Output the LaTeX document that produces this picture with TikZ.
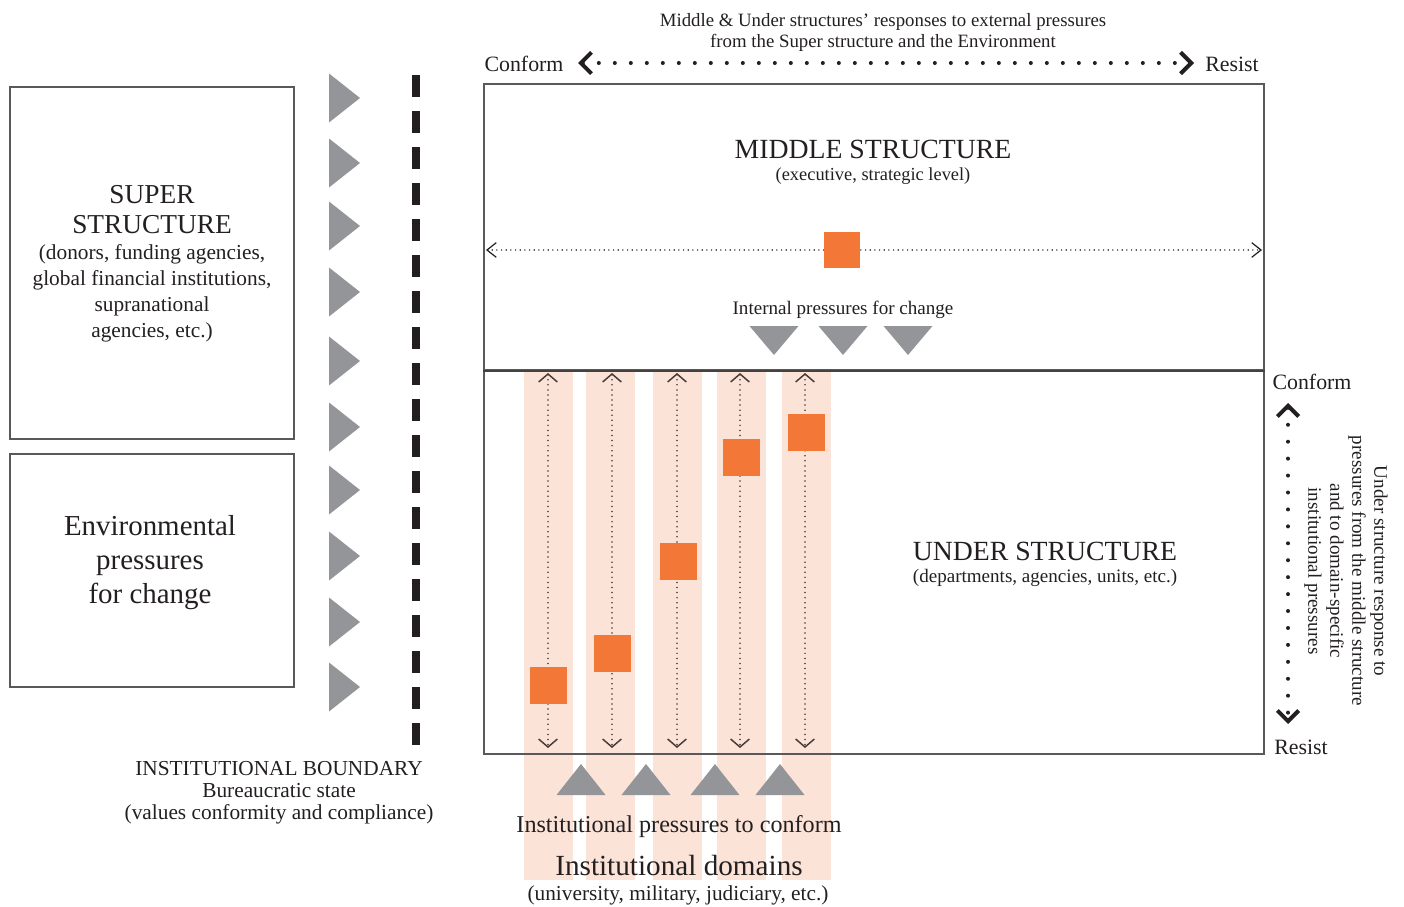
\documentclass[tikz,border=0pt]{standalone}
\usepackage{fontspec}
\setmainfont{Liberation Serif}
\usetikzlibrary{arrows.meta}
\definecolor{txt}{HTML}{231F20}
\definecolor{tri}{HTML}{939598}
\definecolor{pinkc}{HTML}{FCE3D8}
\definecolor{orng}{HTML}{F37838}
\definecolor{brn}{HTML}{4A3A35}
\definecolor{boxc}{HTML}{58595B}
\begin{document}
\begin{tikzpicture}[x=0.75pt,y=-0.75pt,
  every node/.style={text=txt, inner sep=0pt},
  fs/.style 2 args={font=\fontsize{#1}{#2}\selectfont},
  box/.style={draw=boxc, line width=1pt},
  sq/.style={fill=orng, minimum size=27.75pt},
  bigdots/.style={line width=3pt, dash pattern=on 0pt off 12pt, line cap=round, draw=txt,
     {Straight Barb[length=8pt,width=16pt,line width=3pt]}-{Straight Barb[length=8pt,width=16pt,line width=3pt]}},
  thindots/.style={line width=1.15pt, dash pattern=on 0pt off 3.5pt, line cap=round, draw=txt,
     {Straight Barb[length=7pt,width=11pt,line width=0.9pt]}-{Straight Barb[length=7pt,width=11pt,line width=0.9pt]}},
  coldots/.style={line width=1.3pt, dash pattern=on 0pt off 3.8pt, line cap=round, draw=brn,
     {Straight Barb[length=6pt,width=14pt,line width=1.1pt]}-{Straight Barb[length=6pt,width=14pt,line width=1.1pt]}},
  boundary/.style={line width=5.5pt, dash pattern=on 16.5pt off 10.5pt, draw=txt},
  col/.style={fill=pinkc}
]
\useasboundingbox (0,0) rectangle (1404,907);

% pink institutional domain columns
\foreach \a/\b in {524/573, 586/635, 653/702, 717/766, 782/831}
  \fill[col] (\a,371) rectangle (\b,880);

% left boxes
\node[box, minimum width=213pt, minimum height=264pt] (super) at (152,263) {};
\node[box, minimum width=213pt, minimum height=174.75pt] (env) at (152,570.5) {};
\node[fs={20.5}{22}, align=center] (supert) at (152,209.5) {SUPER\\STRUCTURE};
\node[fs={16}{19.5}, align=center] (superd) at (152,293.5) {(donors, funding agencies,\\global financial institutions,\\supranational\\agencies, etc.)};
\node[fs={21.7}{25.5}, align=center] (envt) at (150,562.5) {Environmental\\pressures\\for change};

% right-pointing grey triangles
\foreach \y in {98,163,226,292,361,427,490,556,622,687}
  \fill[tri] (329,\y-24.5) -- (360,\y) -- (329,\y+24.5) -- cycle;

% institutional boundary
\coordinate (bt) at (416,75);
\coordinate (bb) at (416,745);
\draw[boundary] (bt) -- (bb);
\node[fs={16}{16.5}, align=center] (ib) at (279,793) {INSTITUTIONAL BOUNDARY\\Bureaucratic state\\(values conformity and compliance)};

% middle and under structure boxes
\node[box, minimum width=585pt, minimum height=214.5pt] (mid) at (874,227) {};
\node[box, minimum width=585pt, minimum height=288pt] (under) at (874,562) {};
\draw[draw=txt!85, line width=1.4pt] (mid.south west) -- (mid.south east);

% top response arrow
\node[fs={14.1}{15.75}, align=center] (toptxt) at (883,32) {Middle \& Under structures’ responses to external pressures\\from the Super structure and the Environment};
\node[fs={16.4}{18}] (conf1) at (524,64) {Conform};
\node[fs={16.4}{18}] (res1) at (1232,64) {Resist};
\coordinate (tl) at (578,63);
\coordinate (tr) at (1194,63);
\draw[bigdots] (tl) -- (tr);

% middle structure
\node[fs={20.8}{22}] (midt) at (873,149) {MIDDLE STRUCTURE};
\node[fs={13.8}{16}] (midd) at (873,176) {(executive, strategic level)};
\coordinate (ml) at (486,250);
\coordinate (mr) at (1262,250);
\draw[thindots] (ml) -- (mr);
\node[sq, minimum size=27pt] (msq) at (842,250) {};
\node[fs={14.3}{16}] (ipc) at (843,310) {Internal pressures for change};
\foreach \x in {774,843,908}
  \fill[tri] (\x-24.5,326) -- (\x+24.5,326) -- (\x,355) -- cycle;

% column arrows and squares
\foreach \x/\n in {548/1,612/2,677/3,740/4,805/5}{
  \coordinate (ct\n) at (\x,373);
  \coordinate (cb\n) at (\x,748);
  \draw[coldots] (ct\n) -- (cb\n);
}
\node[sq] (s1) at (548.5,685.5) {};
\node[sq] (s2) at (612.5,653.5) {};
\node[sq] (s3) at (678.5,561.5) {};
\node[sq] (s4) at (741.5,457.5) {};
\node[sq] (s5) at (806.5,432.5) {};

% institutional pressures
\foreach \x in {581,646,715,780}
  \fill[tri] (\x-24.5,795) -- (\x+24.5,795) -- (\x,764) -- cycle;
\node[fs={18.1}{20}] (ipconf) at (679,826.5) {Institutional pressures to conform};
\node[fs={21.9}{24}] (idom) at (679,865.5) {Institutional domains};
\node[fs={16}{18}] (idomd) at (678,895) {(university, military, judiciary, etc.)};

% under structure
\node[fs={20.8}{22}] (undt) at (1045,551) {UNDER STRUCTURE};
\node[fs={14.3}{16}] (undd) at (1045,578) {(departments, agencies, units, etc.)};

% right response arrow
\node[fs={16.4}{18}] (conf2) at (1312,382) {Conform};
\node[fs={16.4}{18}] (res2) at (1301,747) {Resist};
\coordinate (rt) at (1288,403);
\coordinate (rb) at (1288,724);
\draw[bigdots, dash pattern=on 0pt off 12.7pt] (rt) -- (rb);
\node[fs={14.3}{16.5}, align=center, rotate=-90] (rtxt) at (1346,571) {Under structure response to\\pressures from the middle structure\\and to domain-specific\\institutional pressures};
\end{tikzpicture}
\end{document}
